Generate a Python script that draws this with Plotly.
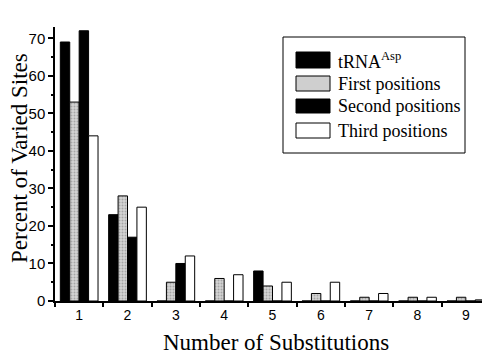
import plotly.graph_objects as go

categories = ["1", "2", "3", "4", "5", "6", "7", "8", "9"]
trna_asp = [69, 23, 0, 0, 8, 0, 0, 0, 0]
first_pos = [53, 28, 5, 6, 4, 2, 1, 1, 1]
second_pos = [72, 17, 10, 0, 0, 0, 0, 0, 0]
third_pos = [44, 25, 12, 7, 5, 5, 2, 1, 0.3]
series_names = ["tRNA<sup>Asp</sup>", "First positions", "Second positions", "Third positions"]

# page body has an 8px margin; lay out in reference pixel coords minus 8
OFF = 8
FW, FH = 490 - OFF, 357 - OFF

fig = go.Figure()
line = dict(color="black", width=1)
fig.add_bar(x=categories, y=trna_asp, name=series_names[0], marker=dict(color="black", line=line))
fig.add_bar(x=categories, y=first_pos, name=series_names[1],
            marker=dict(color="#d4d4d4", line=line,
                        pattern=dict(shape=".", fgcolor="#777777", size=3, solidity=0.35, fillmode="overlay")))
fig.add_bar(x=categories, y=second_pos, name=series_names[2], marker=dict(color="black", line=line))
fig.add_bar(x=categories, y=third_pos, name=series_names[3], marker=dict(color="white", line=line))

L, R, T, B = 55, 490, 27, 301
W, H = R - L, B - T
def px(x): return (x - L) / W
def py(y): return (B - y) / H

shapes = [dict(type="rect", xref="paper", yref="paper", x0=px(283), x1=px(465), y0=py(153), y1=py(37),
               line=dict(color="black", width=1), fillcolor="white")]
rows = [(52, 68), (76, 91), (99, 113), (123, 138)]
fills = ["black", "#cfcfcf", "black", "white"]
annotations = []
for (y0, y1), f, name in zip(rows, fills, series_names):
    shapes.append(dict(type="rect", xref="paper", yref="paper", x0=px(296), x1=px(330), y0=py(y1), y1=py(y0),
                       line=dict(color="black", width=1), fillcolor=f))
    annotations.append(dict(xref="paper", yref="paper", x=px(336), y=py((y0 + y1) / 2), text=name,
                            showarrow=False, xanchor="left", yanchor="middle",
                            font=dict(family="Liberation Serif", size=18, color="black")))

annotations.append(dict(xref="paper", yref="paper", x=px(276), y=py(342), text="Number of Substitutions",
                        showarrow=False, xanchor="center", yanchor="middle",
                        font=dict(family="Liberation Serif", size=23, color="black")))
annotations.append(dict(xref="paper", yref="paper", x=px(19), y=py(158), text="Percent of Varied Sites",
                        showarrow=False, xanchor="center", yanchor="middle", textangle=-90,
                        font=dict(family="Liberation Serif", size=23, color="black")))

fig.update_layout(
    width=FW, height=FH,
    margin=dict(l=L - OFF, r=490 - R, t=T - OFF, b=357 - B),
    paper_bgcolor="white", plot_bgcolor="white",
    barmode="group", bargap=0.22, bargroupgap=0,
    showlegend=False,
    shapes=shapes, annotations=annotations,
    xaxis=dict(type="category", range=[-0.5, 8.5], showline=True, linecolor="black", linewidth=1.5,
               ticks="outside", tickson="boundaries", ticklen=4, tickcolor="black", tickwidth=1.5,
               showgrid=False, tickfont=dict(family="Liberation Sans", size=14, color="black")),
    yaxis=dict(range=[0, 73], showline=True, linecolor="black", linewidth=1.5,
               ticks="outside", ticklen=5, tickcolor="black", tickwidth=1.5, dtick=10,
               minor=dict(dtick=5, ticks="outside", ticklen=2, tickcolor="black", tickwidth=1.5),
               showgrid=False, zeroline=False,
               tickfont=dict(family="Liberation Sans", size=15, color="black")),
)
fig.write_html("out.html")
